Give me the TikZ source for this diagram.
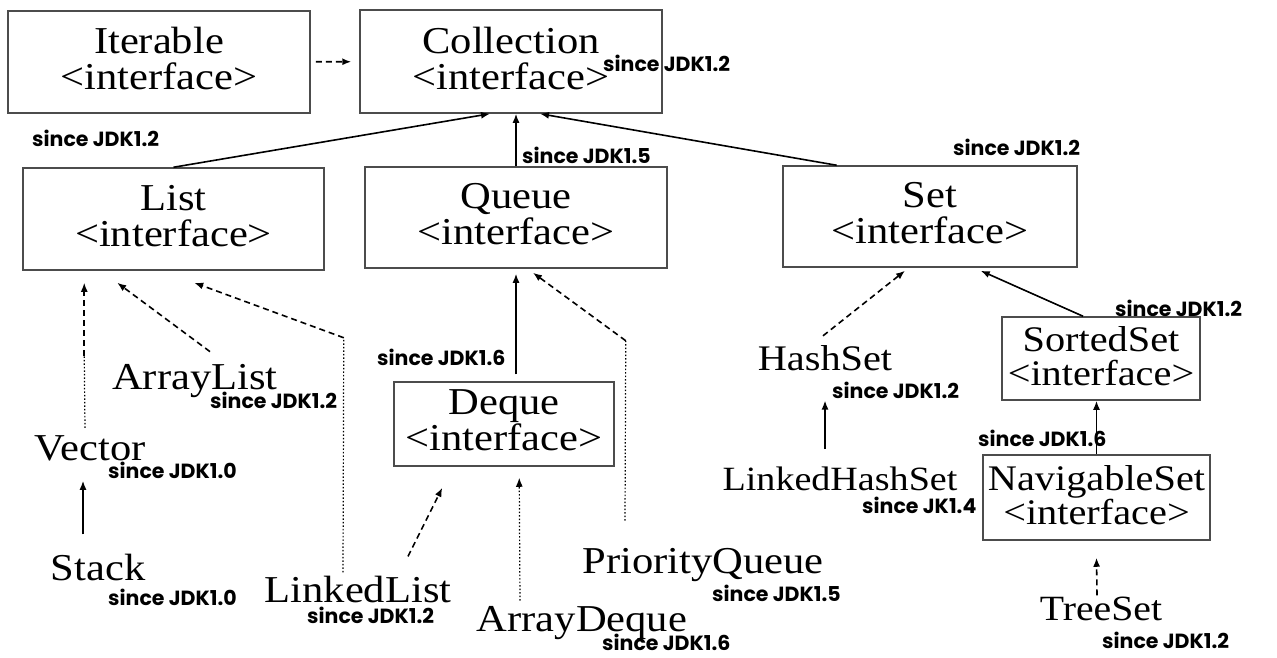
\documentclass[tikz,border=0pt]{standalone}
\usepackage{fontspec}
\setmainfont{Liberation Serif}
\newfontfamily\boxfont{Liberation Serif}[FakeStretch=1.12]
\newfontfamily\tagfont{Poppins}
\usetikzlibrary{arrows.meta,calc}

\begin{document}
\begin{tikzpicture}[x=1pt,y=-1pt,
  iface/.style={draw=black!70, line width=1.5pt, inner sep=0pt, align=center,
    text depth=7pt, font=\boxfont\fontsize{38}{36}\selectfont},
  smallface/.style={iface, text depth=5pt, font=\boxfont\fontsize{36}{34}\selectfont},
  cls/.style={inner sep=1pt, anchor=base, font=\boxfont\fontsize{38}{40}\selectfont},
  tag/.style={anchor=west, inner sep=0pt, font=\tagfont\bfseries\fontsize{20.5}{22}\selectfont},
  inh/.style={line width=1.6pt, -{Latex[length=9pt,width=7pt]}},
  dep/.style={inh, dash pattern=on 6pt off 4pt},
  dotln/.style={line width=1.2pt, dash pattern=on 1.5pt off 2pt},
]
\useasboundingbox[fill=white] (0,0) rectangle (1277,657);

% interfaces
\node[iface, minimum width=302pt, minimum height=102pt] (iter)   at (159,62)     {Iterable\\<interface>};
\node[iface, minimum width=302pt, minimum height=103pt] (coll)   at (511,61.5)   {Collection\\<interface>};
\node[iface, minimum width=301pt, minimum height=102pt] (list)   at (173.5,219)  {List\\<interface>};
\node[iface, minimum width=302pt, minimum height=101pt] (queue)  at (516,217.5)  {Queue\\<interface>};
\node[iface, minimum width=294pt, minimum height=101pt] (set)    at (930,216.5)  {Set\\<interface>};
\node[iface, minimum width=220pt, minimum height=84pt]  (deque)  at (504,424)    {Deque\\<interface>};
\node[smallface, minimum width=198pt, minimum height=83pt] (sorted) at (1101,358.5) {SortedSet\\<interface>};
\node[smallface, minimum width=227pt, minimum height=85pt] (nav)    at (1096.5,497.5) {NavigableSet\\<interface>};

% classes
\node[cls] (vec)   at (90,460)  {Vector};
\node[cls] (stack) at (98,580)  {Stack};
\node[cls] (alist) at (195,389) {ArrayList};
\node[cls] (llist) at (358,602) {LinkedList};
\node[cls] (pq)    at (703,573) {PriorityQueue};
\node[cls] (adq)   at (582,631) {ArrayDeque};
\node[cls, font=\boxfont\fontsize{36}{40}\selectfont]   (hset) at (825,370)  {HashSet};
\node[cls, font=\boxfont\fontsize{34}{40}\selectfont]   (lhs)  at (840,490)  {LinkedHashSet};
\node[cls, font=\boxfont\fontsize{35.5}{40}\selectfont] (tset) at (1101,620) {TreeSet};

% version tags
\node[tag] (t1)  at (32,138)   {since JDK1.2};
\node[tag] (t2)  at (603,63)   {since JDK1.2};
\node[tag] (t3)  at (522,155)  {since JDK1.5};
\node[tag] (t4)  at (953,147)  {since JDK1.2};
\node[tag] (t5)  at (210,400)  {since JDK1.2};
\node[tag] (t6)  at (108,470)  {since JDK1.0};
\node[tag] (t7)  at (108,597)  {since JDK1.0};
\node[tag] (t8)  at (307,615)  {since JDK1.2};
\node[tag] (t9)  at (377,357)  {since JDK1.6};
\node[tag] (t10) at (712,593)  {since JDK1.5};
\node[tag] (t11) at (602,642)  {since JDK1.6};
\node[tag] (t12) at (832,390)  {since JDK1.2};
\node[tag] (t13) at (862,505)  {since JK1.4};
\node[tag] (t14) at (1115,308) {since JDK1.2};
\node[tag] (t15) at (978,438)  {since JDK1.6};
\node[tag] (t16) at (1102,640) {since JDK1.2};

% Iterable / Collection level
\draw[dep, shorten <=5pt, shorten >=8pt] (iter) -- (coll);
\draw[inh] (list.north) -- ($(coll.south)+(-21,0)$);
\draw[inh] (queue.north) -- (queue.north |- coll.south);
\draw[inh] ($(set.north west)!0.184!(set.north east)$) -- ($(coll.south)+(29,0)$);

% List branch
\coordinate (vbend) at ($(list.south west)+(62,85)$);
\draw[dotln] ($(vec.north)+(-5,-6)$) -- (vbend);
\draw[dep] (vbend) -- ($(list.south west)+(62,12)$);
\draw[inh] ($(stack.north)+(-15,-18)$) -- ($(vec.south)+(-7,19)$);
\draw[dep] ($(alist.north)+(15,-11)$) -- ($(list.south west)+(95,12)$);
\coordinate (lbend) at ($(list.south east)+(19,67)$);
\draw[dotln] ($(llist.north)+(-15,-2)$) -- (lbend);
\draw[dep] (lbend) -- ($(list.south west)+(172,12)$);

% Queue branch
\draw[dep] ($(llist.north)+(50,-18)$) -- ($(deque.south west)+(49,21)$);
\draw[inh] ($(deque.north)+(12,-7)$) -- ($(queue.south)+(0,5)$);
\draw[dotln, -{Latex[length=9pt,width=7pt]}] ($(adq.north)+(-62,-4)$) -- ($(deque.south west)+(126,11)$);
\coordinate (pbend) at ($(queue.south east)+(-42,72)$);
\draw[dotln] ($(pq.north)+(-78,-26)$) -- (pbend);
\draw[dep] (pbend) -- ($(queue.south)+(17,4)$);

% Set branch
\draw[dep] ($(hset.north)+(-2,-8)$) -- ($(set.south)+(-25,3)$);
\draw[inh] ($(lhs.north)+(-15,-16)$) -- ($(hset.south)+(0,29)$);
\draw[inh] ($(sorted.north west)!0.41!(sorted.north east)$) -- ($(set.south east)+(-97,3)$);
\draw[inh] (nav.north) -- (nav.north |- sorted.south);
\draw[dep] ($(tset.north)+(-4,0)$) -- ($(nav.south)+(0,17)$);
\end{tikzpicture}
\end{document}
